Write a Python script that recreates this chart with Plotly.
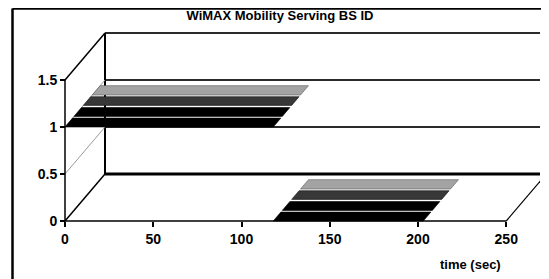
import plotly.graph_objects as go

# ---------------- data ----------------
series_names = ["Series 1", "Series 2", "Series 3", "Series 4"]
segment_start_sec = [0, 118]
segment_end_sec = [118, 203]
serving_bs_id = [1, 0]
x_tick_values = [0, 50, 100, 150, 200, 250]
y_tick_values = [0, 0.5, 1, 1.5]
y_tick_labels = ["0", "0.5", "1", "1.5"]
x_max_front = 250
y_max_front = 1.5

# ---------------- style / geometry ----------------
# page body has an 8px default margin, so the figure is placed at (8, 8)
OFF = 8
WIN_W, WIN_H = 549, 279
W, H = WIN_W - OFF, WIN_H - OFF
PX_PER_SEC = 1.765
PX_PER_UNIT = 94.0
ORIGIN_PX = (65 - OFF, 221 - OFF)          # figure pixel of data (0,0) on the front plane
PLOT_LEFT, PLOT_RIGHT = 62 - OFF, 540 - OFF
PLOT_TOP, PLOT_BOTTOM = 20 - OFF, 224 - OFF

DEPTH_DX = 40 / PX_PER_SEC     # depth offset in seconds for full depth
DEPTH_DY = 0.5                 # depth offset in value units for full depth
bands = [(0.0, 0.19), (0.225, 0.415), (0.46, 0.645), (0.68, 0.88)]
fills = ["#000000", "#000000", "#383838", "#a3a3a3"]
edges = ["#000000", "#000000", "#111111", "#5a5a5a"]
FONT = "Liberation Sans, Arial, sans-serif"

x_range = [(PLOT_LEFT - ORIGIN_PX[0]) / PX_PER_SEC, (PLOT_RIGHT - ORIGIN_PX[0]) / PX_PER_SEC]
y_range = [(ORIGIN_PX[1] - PLOT_BOTTOM) / PX_PER_UNIT, (ORIGIN_PX[1] - PLOT_TOP) / PX_PER_UNIT]


def proj(x, y, d):
    return x + DEPTH_DX * d, y + DEPTH_DY * d


def px_to_paper_x(win_px):
    return (win_px - OFF - PLOT_LEFT) / (PLOT_RIGHT - PLOT_LEFT)


def py_to_paper_y(win_py):
    return (PLOT_BOTTOM - (win_py - OFF)) / (PLOT_BOTTOM - PLOT_TOP)


fig = go.Figure()

# ribbons
for i, name in enumerate(series_names):
    d0, d1 = bands[i]
    xs, ys = [], []
    for t0, t1, v in zip(segment_start_sec, segment_end_sec, serving_bs_id):
        for (t, d) in [(t0, d0), (t1, d0), (t1, d1), (t0, d1), (t0, d0)]:
            px, py = proj(t, v, d)
            xs.append(px)
            ys.append(py)
        xs.append(None)
        ys.append(None)
    fig.add_trace(go.Scatter(
        x=xs, y=ys, mode="lines", fill="toself", name=name,
        fillcolor=fills[i], line=dict(color=edges[i], width=0.6),
        showlegend=False, hoverinfo="skip"))

shapes = []


def seg(p, q, color, width):
    shapes.append(dict(type="line", xref="x", yref="y", x0=p[0], y0=p[1], x1=q[0], y1=q[1],
                       line=dict(color=color, width=width), layer="below"))


# back wall horizontals
for v in y_tick_values:
    col = "#000000" if v == 0 else "#2a2a2a"
    wid = 3 if v == 0 else 2
    seg(proj(0, v, 1), proj(x_max_front, v, 1), col, wid)
# back wall vertical
seg(proj(0, 0, 1), proj(0, y_max_front, 1), "#000000", 2)
# side wall diagonals
seg(proj(0, 0, 0), proj(0, 0, 1), "#000000", 1.5)
seg(proj(0, y_max_front, 0), proj(0, y_max_front, 1), "#000000", 1.5)
for v in y_tick_values[1:-1]:
    seg(proj(0, v, 0), proj(0, v, 1), "#9a9a9a", 1)
# floor right edge
seg(proj(x_max_front, 0, 0), proj(x_max_front, 0, 1), "#000000", 1.2)
# front axes
seg((0, 0), (0, y_max_front), "#000000", 1.5)
seg((0, 0), (x_max_front, 0), "#000000", 1.5)

# outer border (left + top)
bx = px_to_paper_x(12.5)
by = py_to_paper_y(8.6)
shapes.append(dict(type="line", xref="paper", yref="paper", x0=bx, x1=bx,
                   y0=by, y1=py_to_paper_y(WIN_H + 5), line=dict(color="black", width=2.5)))
shapes.append(dict(type="line", xref="paper", yref="paper", x0=bx, x1=px_to_paper_x(WIN_W + 5),
                   y0=by, y1=by, line=dict(color="black", width=2.5)))

fig.update_layout(
    width=W, height=H,
    margin=dict(l=PLOT_LEFT, r=W - PLOT_RIGHT, t=PLOT_TOP, b=H - PLOT_BOTTOM),
    paper_bgcolor="white", plot_bgcolor="white",
    shapes=shapes,
    title=dict(text="<b>WiMAX Mobility Serving BS ID</b>", x=(280 - OFF) / W, xref="container",
               xanchor="center", y=1 - (15 - OFF) / H, yref="container", yanchor="middle",
               font=dict(family=FONT, size=13, color="black")),
    xaxis=dict(range=x_range, tickvals=x_tick_values, ticks="outside", ticklen=5,
               tickwidth=1.5, tickcolor="black", showline=False, showgrid=False,
               zeroline=False, anchor="free",
               position=py_to_paper_y(221),
               tickfont=dict(family=FONT, size=14, color="black", weight="bold")),
    yaxis=dict(range=y_range, tickvals=y_tick_values, ticktext=y_tick_labels,
               ticks="outside", ticklen=5, tickwidth=1.5, tickcolor="black",
               showline=False, showgrid=False, zeroline=False, anchor="free",
               position=px_to_paper_x(65),
               tickfont=dict(family=FONT, size=14, color="black", weight="bold")),
    annotations=[dict(text="<b>time (sec)</b>", xref="paper", yref="paper",
                      x=px_to_paper_x(503), y=py_to_paper_y(264), xanchor="right",
                      yanchor="middle", showarrow=False,
                      font=dict(family=FONT, size=13, color="black"))],
)

fig.write_html("out.html")
